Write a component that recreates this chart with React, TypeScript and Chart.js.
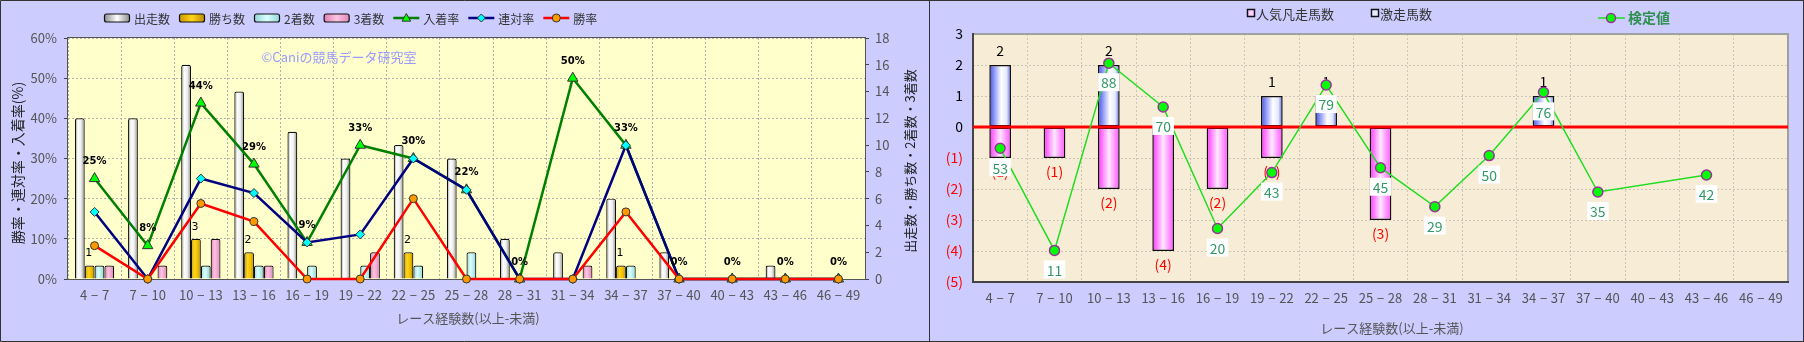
import React, { useEffect, useRef } from 'react';
import { Chart, registerables } from 'chart.js';
Chart.register(...registerables);

// ---------- data ----------
const categories = ['4 − 7', '7 − 10', '10 − 13', '13 − 16', '16 − 19', '19 − 22', '22 − 25', '25 − 28', '28 − 31', '31 − 34', '34 − 37', '37 − 40', '40 − 43', '43 − 46', '46 − 49'];
// left panel (counts)
const runs = [12, 12, 16, 14, 11, 9, 10, 9, 3, 2, 6, 2, 0, 1, 0];
const wins = [1, 0, 3, 2, 0, 0, 2, 0, 0, 0, 1, 0, 0, 0, 0];
const seconds = [1, 0, 1, 1, 1, 1, 1, 2, 0, 0, 1, 0, 0, 0, 0];
const thirds = [1, 1, 3, 1, 0, 2, 0, 0, 0, 1, 0, 0, 0, 0, 0];
// left panel (rates, %)
const placeRate = [25, 8.3, 43.8, 28.6, 9.1, 33.3, 30, 22.2, 0, 50, 33.3, 0, 0, 0, 0];
const quinellaRate = [16.7, 0, 25, 21.4, 9.1, 11.1, 30, 22.2, 0, 0, 33.3, 0, 0, 0, 0];
const winRate = [8.3, 0, 18.8, 14.3, 0, 0, 20, 0, 0, 0, 16.7, 0, 0, 0, 0];
// right panel
const upsetCounts = [2, 0, 2, 0, 0, 1, 1, 0, 0, 0, 1, 0, 0, 0, 0]; // 激走馬数
const flopCounts = [-1, -1, -2, -4, -2, -1, 0, -3, 0, 0, 0, 0, 0, 0, 0]; // 人気凡走馬数
const testValues: (number | null)[] = [53, 11, 88, 70, 20, 43, 79, 45, 29, 50, 76, 35, null, 42, null]; // 検定値

// ---------- styles ----------
const FONT = '"Noto Sans CJK JP", "DejaVu Sans", sans-serif';
const LAVENDER = '#ccccff';
type Stops = [number, string][];
const ST_RUNS: Stops = [[0, '#8a8a8a'], [0.3, '#ffffff'], [0.62, '#efefef'], [1, '#8a8a8a']];
const ST_WINS: Stops = [[0, '#c89600'], [0.35, '#ffd41c'], [0.65, '#f2c200'], [1, '#b88a00']];
const ST_SEC: Stops = [[0, '#8ed6d6'], [0.4, '#dcffff'], [1, '#8ed6d6']];
const ST_THI: Stops = [[0, '#dd7db0'], [0.4, '#ffc4e2'], [1, '#dd86b8']];
const ST_BLUE: Stops = [[0, '#4050ee'], [0.55, '#ffffff'], [0.8, '#e4e8ff'], [1, '#5060ee']];
const ST_MAG: Stops = [[0, '#ff30ff'], [0.5, '#ffe8ff'], [1, '#ff50ff']];
const LEFT_CAT_PCT = 0.74;
const RIGHT_BAR_PCT = 0.4;

const tickLabel = (i: number) => categories[i].replace(/ /g, ' \u200A');

function hGrad(ctx: CanvasRenderingContext2D, x0: number, x1: number, stops: Stops) {
  const g = ctx.createLinearGradient(x0, 0, x1, 0);
  stops.forEach(([o, c]) => g.addColorStop(o, c));
  return g;
}

function leftBarBg(slot: number, stops: Stops) {
  return (c: any) => {
    const chart = c.chart;
    const xs = chart.scales && chart.scales.x;
    if (!xs || !chart.chartArea || c.dataIndex === undefined) return stops[1][1];
    const catW = xs.width / categories.length;
    const groupW = catW * LEFT_CAT_PCT;
    const barW = groupW / 4;
    const x0 = xs.getPixelForValue(c.dataIndex) - groupW / 2 + slot * barW;
    return hGrad(chart.ctx, x0, x0 + barW, stops);
  };
}

function rightBarBg(stops: Stops) {
  return (c: any) => {
    const chart = c.chart;
    const xs = chart.scales && chart.scales.x;
    if (!xs || !chart.chartArea || c.dataIndex === undefined) return stops[1][1];
    const catW = xs.width / categories.length;
    const barW = catW * RIGHT_BAR_PCT;
    const x0 = xs.getPixelForValue(c.dataIndex) - barW / 2;
    return hGrad(chart.ctx, x0, x0 + barW, stops);
  };
}

function drawMarker(ctx: CanvasRenderingContext2D, style: string, x: number, y: number, r: number, fill: string, stroke: string, lw: number) {
  ctx.save();
  ctx.beginPath();
  if (style === 'triangle') {
    ctx.moveTo(x, y - r);
    ctx.lineTo(x + r * 0.95, y + r * 0.7);
    ctx.lineTo(x - r * 0.95, y + r * 0.7);
    ctx.closePath();
  } else if (style === 'diamond') {
    ctx.moveTo(x, y - r);
    ctx.lineTo(x + r, y);
    ctx.lineTo(x, y + r);
    ctx.lineTo(x - r, y);
    ctx.closePath();
  } else {
    ctx.arc(x, y, r, 0, Math.PI * 2);
  }
  ctx.fillStyle = fill;
  ctx.fill();
  ctx.lineWidth = lw;
  ctx.strokeStyle = stroke;
  ctx.stroke();
  ctx.restore();
}

function vText(ctx: CanvasRenderingContext2D, text: string, x: number, y: number, font: string, color: string) {
  ctx.save();
  ctx.translate(x, y);
  ctx.rotate(-Math.PI / 2);
  ctx.font = font;
  ctx.fillStyle = color;
  ctx.textAlign = 'center';
  ctx.textBaseline = 'middle';
  ctx.fillText(text, 0, 0);
  ctx.restore();
}

function roundRect(ctx: CanvasRenderingContext2D, x: number, y: number, w: number, h: number, r: number) {
  ctx.beginPath();
  ctx.moveTo(x + r, y);
  ctx.lineTo(x + w - r, y);
  ctx.arcTo(x + w, y, x + w, y + r, r);
  ctx.lineTo(x + w, y + h - r);
  ctx.arcTo(x + w, y + h, x + w - r, y + h, r);
  ctx.lineTo(x + r, y + h);
  ctx.arcTo(x, y + h, x, y + h - r, r);
  ctx.lineTo(x, y + r);
  ctx.arcTo(x, y, x + r, y, r);
  ctx.closePath();
}

// ---------- left chart ----------
const leftLegend = [
  { kind: 'bar', label: '出走数', stops: ST_RUNS },
  { kind: 'bar', label: '勝ち数', stops: ST_WINS },
  { kind: 'bar', label: '2着数', stops: ST_SEC },
  { kind: 'bar', label: '3着数', stops: ST_THI },
  { kind: 'line', label: '入着率', color: '#008000', marker: 'triangle', fill: '#00ff00', r: 4.5 },
  { kind: 'line', label: '連対率', color: '#000080', marker: 'diamond', fill: '#00ffff', r: 4 },
  { kind: 'line', label: '勝率', color: '#ff0000', marker: 'circle', fill: '#ff9900', r: 4 },
];

const leftPlugin = {
  id: 'leftDecor',
  beforeDraw(chart: any) {
    const { ctx, width, height, chartArea: a } = chart;
    ctx.save();
    ctx.fillStyle = LAVENDER;
    ctx.fillRect(0, 0, width, height);
    ctx.fillStyle = '#ffffcc';
    ctx.fillRect(a.left, a.top, a.right - a.left, a.bottom - a.top);
    ctx.restore();
  },
  beforeDatasetsDraw(chart: any) {
    const { ctx, chartArea: a } = chart;
    ctx.save();
    ctx.strokeStyle = '#555';
    ctx.lineWidth = 1;
    ctx.strokeRect(Math.round(a.left) - 0.5, Math.round(a.top) - 0.5, Math.round(a.right - a.left) + 1, Math.round(a.bottom - a.top) + 1);
    ctx.font = `13px ${FONT}`;
    ctx.fillStyle = '#9a9aff';
    ctx.textAlign = 'center';
    ctx.textBaseline = 'middle';
    ctx.fillText('©Caniの競馬データ研究室', 339, 57);
    ctx.restore();
  },
  afterDatasetsDraw(chart: any) {
    const { ctx } = chart;
    ctx.save();
    ctx.textAlign = 'center';
    ctx.textBaseline = 'middle';
    ctx.fillStyle = '#000';
    // 入着率 labels
    const placeMeta = chart.getDatasetMeta(2);
    ctx.font = `bold 10px "DejaVu Sans", sans-serif`;
    placeMeta.data.forEach((el: any, i: number) => {
      ctx.fillText(`${Math.round(placeRate[i])}%`, el.x, el.y - 17);
    });
    // 勝ち数 labels
    const winMeta = chart.getDatasetMeta(4);
    ctx.font = `11px "DejaVu Sans", sans-serif`;
    winMeta.data.forEach((el: any, i: number) => {
      if (wins[i] > 0) ctx.fillText(String(wins[i]), el.x - 1, el.y - 12);
    });
    ctx.restore();
  },
  afterDraw(chart: any) {
    const { ctx, width, height } = chart;
    ctx.save();
    // panel border
    ctx.strokeStyle = '#333';
    ctx.lineWidth = 1;
    ctx.beginPath();
    ctx.moveTo(width, 0.5);
    ctx.lineTo(0.5, 0.5);
    ctx.lineTo(0.5, height - 0.5);
    ctx.lineTo(width, height - 0.5);
    ctx.stroke();
    // legend
    let x = 104;
    const y = 18;
    ctx.font = `12px ${FONT}`;
    ctx.textBaseline = 'middle';
    ctx.textAlign = 'left';
    leftLegend.forEach((it: any) => {
      if (it.kind === 'bar') {
        roundRect(ctx, x + 0.5, y - 4, 25, 8, 2);
        ctx.fillStyle = hGrad(ctx, x, x + 26, [[0, it.stops[0][1]], [0.5, it.stops[1][1]], [1, it.stops[it.stops.length - 1][1]]]);
        ctx.fill();
        ctx.strokeStyle = '#111';
        ctx.lineWidth = 1.2;
        ctx.stroke();
      } else {
        ctx.beginPath();
        ctx.moveTo(x, y);
        ctx.lineTo(x + 26, y);
        ctx.strokeStyle = it.color;
        ctx.lineWidth = 2.5;
        ctx.stroke();
        drawMarker(ctx, it.marker, x + 13, y, it.r, it.fill, '#333', 1);
      }
      x += 30;
      ctx.fillStyle = '#333';
      ctx.fillText(it.label, x, y + 1);
      x += ctx.measureText(it.label).width + 9;
    });
    // axis titles
    vText(ctx, '勝率・連対率・入着率(%)', 18, 163, `14px ${FONT}`, '#222');
    vText(ctx, '出走数・勝ち数・2着数・3着数', 910, 161, `13px ${FONT}`, '#222');
    ctx.font = `13px ${FONT}`;
    ctx.fillStyle = '#555';
    ctx.textAlign = 'center';
    ctx.fillText('レース経験数(以上-未満)', 468, 318);
    ctx.restore();
  },
};

function makeLeft(canvas: HTMLCanvasElement) {
  const lineCommon = { type: 'line' as const, yAxisID: 'y', borderWidth: 2.5, tension: 0, clip: false as any, pointBorderColor: '#333', pointBorderWidth: 1 };
  const barCommon = { type: 'bar' as const, yAxisID: 'y1', borderColor: '#111', borderWidth: 1.2, borderSkipped: 'start' as const, borderRadius: { topLeft: 2, topRight: 2, bottomLeft: 0, bottomRight: 0 }, categoryPercentage: LEFT_CAT_PCT, barPercentage: 1 };
  return new Chart(canvas, {
    type: 'bar',
    data: {
      labels: categories,
      datasets: [
        { ...lineCommon, label: '勝率', data: winRate, borderColor: '#ff0000', pointStyle: 'circle', pointRadius: 4, pointBackgroundColor: '#ff9900', order: 1 },
        { ...lineCommon, label: '連対率', data: quinellaRate, borderColor: '#000080', pointStyle: 'rectRot', pointRadius: 4.5, pointBackgroundColor: '#00ffff', order: 2 },
        { ...lineCommon, label: '入着率', data: placeRate, borderColor: '#008000', pointStyle: 'triangle', pointRadius: 6, pointBackgroundColor: '#00ff00', order: 3 },
        { ...barCommon, label: '出走数', data: runs, backgroundColor: leftBarBg(0, ST_RUNS), order: 4 },
        { ...barCommon, label: '勝ち数', data: wins, backgroundColor: leftBarBg(1, ST_WINS), order: 5 },
        { ...barCommon, label: '2着数', data: seconds, backgroundColor: leftBarBg(2, ST_SEC), order: 6 },
        { ...barCommon, label: '3着数', data: thirds, backgroundColor: leftBarBg(3, ST_THI), order: 7 },
      ] as any,
    },
    options: {
      animation: false,
      responsive: false,
      maintainAspectRatio: false,
      events: [],
      layout: { padding: { top: 38, left: 0, right: 0, bottom: 0 } },
      plugins: { legend: { display: false }, tooltip: { enabled: false }, title: { display: false } },
      scales: {
        x: {
          offset: true,
          grid: { color: '#b0b0b0', drawTicks: false, offset: true },
          border: { display: false, dash: [2, 2] },
          ticks: { color: '#555', font: { size: 13, family: FONT }, padding: 8, maxRotation: 0, autoSkip: false, callback: (_v: any, i: number) => tickLabel(i) },
          afterFit: (s: any) => { s.height = 63; },
        },
        y: {
          position: 'left',
          min: 0,
          max: 60,
          grid: { color: '#b0b0b0', drawTicks: true, tickLength: 4, tickColor: '#444', tickBorderDash: [] },
          border: { display: false, dash: [2, 2] },
          ticks: { stepSize: 10, color: '#555', font: { size: 13, family: FONT }, padding: 7, callback: (v: any) => `${v}%` },
          afterFit: (s: any) => { s.width = 68; },
        },
        y1: {
          position: 'right',
          min: 0,
          max: 18,
          grid: { drawOnChartArea: false, drawTicks: true, tickLength: 4, tickColor: '#444' },
          border: { display: false },
          ticks: { stepSize: 2, color: '#555', font: { size: 13, family: FONT }, padding: 6 },
          afterFit: (s: any) => { s.width = 64; },
        },
      },
    } as any,
    plugins: [leftPlugin],
  });
}

// ---------- right chart ----------
const rightPlugin = {
  id: 'rightDecor',
  beforeDraw(chart: any) {
    const { ctx, width, height, chartArea: a } = chart;
    ctx.save();
    ctx.fillStyle = LAVENDER;
    ctx.fillRect(0, 0, width, height);
    ctx.fillStyle = '#f7edd6';
    ctx.fillRect(a.left, a.top, a.right - a.left, a.bottom - a.top);
    ctx.restore();
  },
  beforeDatasetsDraw(chart: any) {
    const { ctx, chartArea: a } = chart;
    ctx.save();
    ctx.lineWidth = 2;
    ctx.strokeStyle = '#a0a0a0';
    ctx.beginPath();
    ctx.moveTo(a.left, a.top);
    ctx.lineTo(a.right, a.top);
    ctx.lineTo(a.right, a.bottom);
    ctx.stroke();
    ctx.strokeStyle = '#444';
    ctx.beginPath();
    ctx.moveTo(a.left, a.top - 1);
    ctx.lineTo(a.left, a.bottom);
    ctx.lineTo(a.right + 1, a.bottom);
    ctx.stroke();
    ctx.restore();
  },
  beforeDatasetDraw(chart: any, args: any) {
    if (args.meta.type !== 'line') return;
    const { ctx, chartArea: a } = chart;
    const y0 = chart.scales.y.getPixelForValue(0);
    ctx.save();
    ctx.strokeStyle = '#ff0000';
    ctx.lineWidth = 3;
    ctx.beginPath();
    ctx.moveTo(a.left, y0);
    ctx.lineTo(a.right, y0);
    ctx.stroke();
    ctx.textAlign = 'center';
    ctx.textBaseline = 'middle';
    ctx.font = `14px ${FONT}`;
    const upMeta = chart.getDatasetMeta(1);
    upMeta.data.forEach((el: any, i: number) => {
      if (upsetCounts[i] > 0) {
        ctx.fillStyle = '#000';
        ctx.fillText(String(upsetCounts[i]), el.x, el.y - 14);
      }
    });
    const flMeta = chart.getDatasetMeta(2);
    flMeta.data.forEach((el: any, i: number) => {
      if (flopCounts[i] < 0) {
        ctx.fillStyle = '#ff0000';
        ctx.fillText(`(${-flopCounts[i]})`, el.x, el.y + 14);
      }
    });
    ctx.restore();
  },
  afterDatasetsDraw(chart: any) {
    const { ctx } = chart;
    const meta = chart.getDatasetMeta(0);
    ctx.save();
    ctx.font = `14px ${FONT}`;
    ctx.textAlign = 'center';
    ctx.textBaseline = 'middle';
    meta.data.forEach((el: any, i: number) => {
      const v = testValues[i];
      if (v === null || v === undefined) return;
      const t = String(v);
      const w = ctx.measureText(t).width + 6;
      const cy = el.y + 19;
      ctx.fillStyle = '#ffffff';
      ctx.fillRect(el.x - w / 2, cy - 9, w, 18);
      ctx.fillStyle = '#339966';
      ctx.fillText(t, el.x, cy + 1);
    });
    ctx.restore();
  },
  afterDraw(chart: any) {
    const { ctx, width, height } = chart;
    ctx.save();
    ctx.strokeStyle = '#333';
    ctx.lineWidth = 1;
    ctx.strokeRect(0.5, 0.5, width - 1, height - 1);
    // legend
    ctx.textBaseline = 'middle';
    ctx.textAlign = 'left';
    ctx.font = `13px ${FONT}`;
    const sq = (x: number, y: number, fill: string) => {
      ctx.fillStyle = fill;
      ctx.fillRect(x, y - 4, 8, 8);
      ctx.strokeStyle = '#111';
      ctx.lineWidth = 1.5;
      ctx.strokeRect(x + 0.5, y - 3.5, 7, 7);
    };
    sq(318, 13, '#ffd0ff');
    ctx.fillStyle = '#333';
    ctx.fillText('人気凡走馬数', 327, 14);
    sq(442, 13, '#e8ecff');
    ctx.fillStyle = '#333';
    ctx.fillText('激走馬数', 451, 14);
    ctx.beginPath();
    ctx.moveTo(669, 18);
    ctx.lineTo(696, 18);
    ctx.strokeStyle = '#22dd22';
    ctx.lineWidth = 1.5;
    ctx.stroke();
    drawMarker(ctx, 'circle', 682, 18, 4.5, '#00ff00', '#993399', 1.5);
    ctx.font = `bold 14px ${FONT}`;
    ctx.fillStyle = '#2f8f4f';
    ctx.fillText('検定値', 699, 18);
    // x title
    ctx.font = `13px ${FONT}`;
    ctx.fillStyle = '#555';
    ctx.textAlign = 'center';
    ctx.fillText('レース経験数(以上-未満)', 463, 328);
    ctx.restore();
  },
};

function makeRight(canvas: HTMLCanvasElement) {
  const barCommon = { type: 'bar' as const, yAxisID: 'y', borderColor: '#111', borderWidth: 1.5, borderSkipped: false as any, categoryPercentage: 1, barPercentage: RIGHT_BAR_PCT, stack: 's' };
  return new Chart(canvas, {
    type: 'bar',
    data: {
      labels: categories,
      datasets: [
        { type: 'line', label: '検定値', data: testValues, yAxisID: 'y2', borderColor: '#22dd22', borderWidth: 1.5, tension: 0, spanGaps: true, clip: false, pointStyle: 'circle', pointRadius: 5, pointBackgroundColor: '#00ff00', pointBorderColor: '#993399', pointBorderWidth: 1.5, order: 1 },
        { ...barCommon, label: '激走馬数', data: upsetCounts, backgroundColor: rightBarBg(ST_BLUE), order: 2 },
        { ...barCommon, label: '人気凡走馬数', data: flopCounts, backgroundColor: rightBarBg(ST_MAG), order: 3 },
      ] as any,
    },
    options: {
      animation: false,
      responsive: false,
      maintainAspectRatio: false,
      events: [],
      layout: { padding: { top: 34, left: 0, right: 16, bottom: 0 } },
      plugins: { legend: { display: false }, tooltip: { enabled: false }, title: { display: false } },
      scales: {
        x: {
          stacked: true,
          offset: true,
          grid: { color: 'rgba(150,150,150,0.45)', drawTicks: false, offset: true },
          border: { display: false, dash: [2, 2] },
          ticks: { color: '#555', font: { size: 13, family: FONT }, padding: 8, maxRotation: 0, autoSkip: false, callback: (_v: any, i: number) => tickLabel(i) },
          afterFit: (s: any) => { s.height = 60; },
        },
        y: {
          stacked: true,
          position: 'left',
          min: -5,
          max: 3,
          grid: { color: 'rgba(150,150,150,0.45)', drawTicks: false },
          border: { display: false, dash: [2, 2] },
          ticks: {
            stepSize: 1,
            padding: 10,
            font: { size: 14, family: FONT },
            color: (c: any) => (c.tick && c.tick.value < 0 ? '#ff0000' : '#000000'),
            callback: (v: any) => (v < 0 ? `(${-v})` : `${v}`),
          },
          afterFit: (s: any) => { s.width = 44; },
        },
        y2: { display: false, min: -2, max: 100 },
      },
    } as any,
    plugins: [rightPlugin],
  });
}

export default function App() {
  const leftRef = useRef<HTMLCanvasElement>(null);
  const rightRef = useRef<HTMLCanvasElement>(null);
  useEffect(() => {
    const l = makeLeft(leftRef.current!);
    const r = makeRight(rightRef.current!);
    return () => {
      l.destroy();
      r.destroy();
    };
  }, []);
  return (
    <div style={{ position: 'absolute', left: 0, top: 0, width: 1804, height: 342 }}>
      <canvas ref={leftRef} width={929} height={342} style={{ position: 'absolute', left: 0, top: 0, width: 929, height: 342 }} />
      <canvas ref={rightRef} width={875} height={342} style={{ position: 'absolute', left: 929, top: 0, width: 875, height: 342 }} />
    </div>
  );
}
